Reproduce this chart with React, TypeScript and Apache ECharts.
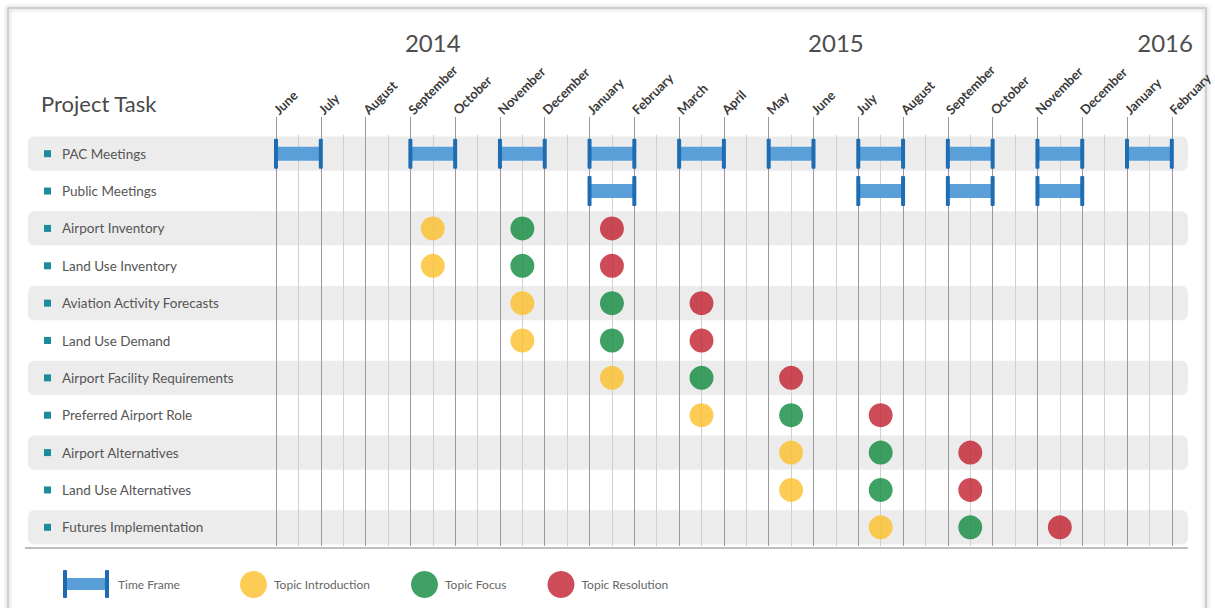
import React, { useEffect, useRef } from "react";
import * as echarts from "echarts";

// Month axis: index 0 = June 2014 ... index 20 = February 2016
const monthLabels = [
  "June", "July", "August", "September", "October", "November", "December",
  "January", "February", "March", "April", "May", "June", "July", "August",
  "September", "October", "November", "December", "January", "February",
];

const yearLabels = ["2014", "2015", "2016"];
const yearPositions = [3.5, 12.5, 19.85];

const tasks = [
  "PAC Meetings",
  "Public Meetings",
  "Airport Inventory",
  "Land Use Inventory",
  "Aviation Activity Forecasts",
  "Land Use Demand",
  "Airport Facility Requirements",
  "Preferred Airport Role",
  "Airport Alternatives",
  "Land Use Alternatives",
  "Futures Implementation",
];

// Time frames [startMonthIndex, endMonthIndex]
const pacMeetingFrames = [
  [0, 1], [3, 4], [5, 6], [7, 8], [9, 10], [11, 12], [13, 14], [15, 16], [17, 18], [19, 20],
];
const publicMeetingFrames = [
  [7, 8], [13, 14], [15, 16], [17, 18],
];

// Mid-month positions per task (null = none)
const topicIntroduction = [null, null, 3.5, 3.5, 5.5, 5.5, 7.5, 9.5, 11.5, 11.5, 13.5];
const topicFocus = [null, null, 5.5, 5.5, 7.5, 7.5, 9.5, 11.5, 13.5, 13.5, 15.5];
const topicResolution = [null, null, 7.5, 7.5, 9.5, 9.5, 11.5, 13.5, 15.5, 15.5, 17.5];

const FONT = "Lato";
const BAR_COLOR = "#5b9fd9";
const CAP_COLOR = "#1e6db3";
const YELLOW = "#fbbf2a";
const GREEN = "#0f8a3c";
const RED = "#c01f2d";

function dotData(arr: (number | null)[]) {
  const out: any[] = [];
  arr.forEach((v, i) => {
    if (v != null) out.push([v, tasks[i]]);
  });
  return out;
}

const timeFrameIconSvg =
  "<svg xmlns='http://www.w3.org/2000/svg' width='46' height='28'>" +
  `<rect x='4' y='8' width='38' height='12' fill='${BAR_COLOR}'/>` +
  `<rect x='0' y='0' width='4' height='28' rx='1' fill='${CAP_COLOR}'/>` +
  `<rect x='42' y='0' width='4' height='28' rx='1' fill='${CAP_COLOR}'/>` +
  "</svg>";
const timeFrameIcon =
  "image://data:image/svg+xml;charset=utf-8," + encodeURIComponent(timeFrameIconSvg);

export default function App() {
  const ref = useRef<HTMLDivElement>(null);

  useEffect(() => {
    if (!ref.current) return;
    const chart = echarts.init(ref.current, null, { renderer: "svg" });

    const timeFrameData = [
      ...pacMeetingFrames.map((f) => [tasks[0], f[0], f[1]]),
      ...publicMeetingFrames.map((f) => [tasks[1], f[0], f[1]]),
    ];
    const bandData = tasks
      .map((t, i) => [0, t, i])
      .filter((d) => (d[2] as number) % 2 === 0);

    const option: any = {
      animation: false,
      backgroundColor: "#ffffff",
      textStyle: { fontFamily: FONT },
      title: {
        text: "Project Task",
        left: 36,
        top: 87,
        textStyle: { fontFamily: FONT, fontSize: 22, fontWeight: "normal", color: "#4a4a4a" },
      },
      grid: { left: 276, right: 43, top: 135, height: 411 },
      xAxis: {
        type: "value",
        position: "top",
        min: 0,
        max: 20,
        interval: 1,
        axisLine: { show: false },
        axisTick: { show: true, length: 18, lineStyle: { color: "#9a9a9a" } },
        axisLabel: {
          rotate: -45,
          margin: 23,
          fontFamily: FONT,
          fontSize: 13,
          fontWeight: "bold",
          color: "#3a3a3a",
          formatter: (v: number) => monthLabels[Math.round(v)] ?? "",
        },
        splitLine: { show: true, lineStyle: { color: "#9a9a9a", width: 1 } },
        minorTick: { show: false, splitNumber: 2 },
        minorSplitLine: { show: true, lineStyle: { color: "#cfcfcf", width: 1 } },
      },
      yAxis: {
        type: "category",
        data: tasks,
        inverse: true,
        axisLine: { show: false },
        axisTick: { show: false },
        splitLine: { show: false },
        axisLabel: {
          align: "left",
          margin: 232,
          formatter: (v: string) => `{sq|}{t|${v}}`,
          rich: {
            sq: { width: 7, height: 7, backgroundColor: "#1b8c9b" },
            t: { fontFamily: FONT, fontSize: 13.5, color: "#555555", padding: [0, 0, 0, 11] },
          },
        },
      },
      legend: [
        {
          left: 58,
          top: 565,
          data: [{ name: "Time Frame", icon: timeFrameIcon }],
          itemWidth: 46,
          itemHeight: 28,
          textStyle: { fontFamily: FONT, fontSize: 12, color: "#666", padding: [0, 0, 0, 4] },
          selectedMode: false,
        },
        {
          left: 235,
          top: 566,
          data: ["Topic Introduction", "Topic Focus", "Topic Resolution"],
          icon: "circle",
          itemWidth: 27,
          itemHeight: 27,
          itemGap: 41,
          textStyle: { fontFamily: FONT, fontSize: 12, color: "#666", padding: [0, 0, 0, 2] },
          selectedMode: false,
        },
      ],
      series: [
        {
          type: "custom",
          name: "bands",
          z: -1,
          silent: true,
          encode: { x: 0, y: 1 },
          data: bandData,
          renderItem: (params: any, api: any) => {
            const c0 = api.coord([0, api.value(1)]);
            const c1 = api.coord([20, api.value(1)]);
            const rowH = api.size([0, 1])[1];
            const h = rowH - 3;
            const x0 = c0[0] - 248;
            const x1 = c1[0] + 16;
            const children: any[] = [
              {
                type: "rect",
                shape: { x: x0, y: c0[1] - h / 2, width: x1 - x0, height: h, r: 6 },
                style: { fill: "#ececec" },
              },
            ];
            if (api.value(2) === tasks.length - 1) {
              const yb = c0[1] + rowH / 2 + 2;
              children.push({
                type: "line",
                shape: { x1: x0 - 3, y1: yb, x2: x1, y2: yb },
                style: { stroke: "#bdbdbd", lineWidth: 2 },
              });
            }
            return { type: "group", children };
          },
        },
        {
          type: "custom",
          name: "Time Frame",
          itemStyle: { color: BAR_COLOR },
          encode: { x: [1, 2], y: 0 },
          data: timeFrameData,
          renderItem: (params: any, api: any) => {
            const row = api.value(0);
            const p0 = api.coord([api.value(1), row]);
            const p1 = api.coord([api.value(2), row]);
            const barH = 14;
            const capH = 30;
            const capW = 4;
            return {
              type: "group",
              children: [
                {
                  type: "rect",
                  shape: { x: p0[0], y: p0[1] - barH / 2, width: p1[0] - p0[0], height: barH },
                  style: { fill: BAR_COLOR },
                },
                {
                  type: "rect",
                  shape: { x: p0[0] - capW / 2, y: p0[1] - capH / 2, width: capW, height: capH, r: 1 },
                  style: { fill: CAP_COLOR },
                },
                {
                  type: "rect",
                  shape: { x: p1[0] - capW / 2, y: p1[1] - capH / 2, width: capW, height: capH, r: 1 },
                  style: { fill: CAP_COLOR },
                },
              ],
            };
          },
        },
        {
          type: "scatter",
          name: "Topic Introduction",
          symbolSize: 24,
          itemStyle: { color: YELLOW },
          data: dotData(topicIntroduction),
        },
        {
          type: "scatter",
          name: "Topic Focus",
          symbolSize: 24,
          itemStyle: { color: GREEN },
          data: dotData(topicFocus),
        },
        {
          type: "scatter",
          name: "Topic Resolution",
          symbolSize: 24,
          itemStyle: { color: RED },
          data: dotData(topicResolution),
        },
      ],
    };

    chart.setOption(option);

    const yearGraphics = yearLabels.map((y, i) => {
      const px = chart.convertToPixel({ xAxisIndex: 0 }, yearPositions[i]) as number;
      return {
        type: "text",
        x: px,
        y: 42,
        style: {
          text: y,
          fontFamily: FONT,
          fontSize: 24,
          fill: "#4d4d4d",
          align: "center",
          verticalAlign: "middle",
        },
      };
    });

    chart.setOption({
      graphic: [
        {
          type: "rect",
          z: -10,
          silent: true,
          shape: { x: 8, y: 8, width: 1198, height: 640 },
          style: {
            fill: "none",
            stroke: "#c4c4c4",
            lineWidth: 1.5,
            shadowBlur: 5,
            shadowColor: "rgba(0,0,0,0.35)",
          },
        },
        ...yearGraphics,
      ],
    });

    return () => chart.dispose();
  }, []);

  return (
    <div
      ref={ref}
      style={{ position: "absolute", left: 0, top: 0, width: 1215, height: 608 }}
    />
  );
}
